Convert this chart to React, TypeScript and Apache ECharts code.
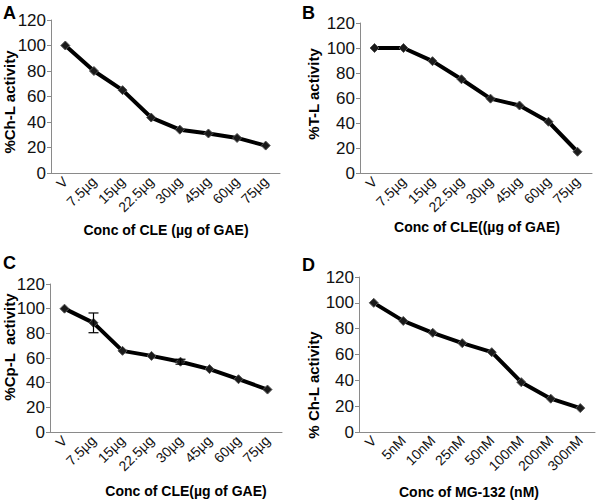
import React, { useEffect, useRef } from "react";
import * as echarts from "echarts";

const catsCLE = ["V", "7.5µg", "15µg", "22.5µg", "30µg", "45µg", "60µg", "75µg"];
const catsMG = ["V", "5nM", "10nM", "25nM", "50nM", "100nM", "200nM", "300nM"];
const valuesA = [100, 80, 65, 43.5, 34, 31, 27.5, 21.5];
const valuesB = [100, 100, 89.5, 75, 59.5, 54, 41, 17];
const valuesC = [100, 88.5, 65.8, 61.7, 57, 51, 42.8, 34.4];
const errorsC = [0, 8, 0, 0, 2, 0, 0, 0];
const valuesD = [100, 86, 76.8, 68.8, 61.8, 38.6, 25.8, 18.5];
const yTicks = [0, 20, 40, 60, 80, 100, 120];

const panelLetters = ["A", "B", "C", "D"];
const yTitles = ["%Ch-L activity", "%T-L activity", "%Cp-L  activity", "% Ch-L activity"];
const xTitles = ["Conc of CLE (µg of GAE)", "Conc of CLE((µg of GAE)", "Conc of CLE(µg of GAE)", "Conc of MG-132 (nM)"];

const FONT = "'Liberation Sans', Arial, sans-serif";

export default function App() {
  const ref = useRef<HTMLDivElement>(null);
  useEffect(() => {
    if (!ref.current) return;
    const chart = echarts.init(ref.current, null, { renderer: "svg" });
    const grids = [
      { left: 51, top: 20, width: 229, height: 153 },
      { left: 360, top: 23, width: 232, height: 150 },
      { left: 50, top: 284, width: 232, height: 148 },
      { left: 359, top: 277, width: 236, height: 155 },
    ];
    const catsList = [catsCLE, catsCLE, catsCLE, catsMG];
    const valsList = [valuesA, valuesB, valuesC, valuesD];
    const letterPos = [[3, 4], [302, 4], [3, 254], [302, 256]];
    const yTitlePos = [[9, 102], [313, 94], [9, 347], [313, 385]];
    const xTitlePos = [[166, 230], [477, 227], [186, 491], [469, 492]];

    const xAxes = grids.map((_, i) => ({
      type: "category",
      gridIndex: i,
      data: catsList[i],
      boundaryGap: true,
      axisLine: { lineStyle: { color: "#8a8a8a", width: 1 } },
      axisTick: { show: false },
      axisLabel: { rotate: 45, fontSize: 14, color: "#111", fontFamily: FONT, margin: 6, interval: 0 },
    }));
    const yAxes = grids.map((_, i) => ({
      type: "value",
      gridIndex: i,
      min: yTicks[0],
      max: yTicks[yTicks.length - 1],
      interval: 20,
      splitLine: { show: false },
      axisLine: { show: true, lineStyle: { color: "#8a8a8a", width: 1 } },
      axisTick: { show: true, length: 4, lineStyle: { color: "#8a8a8a" } },
      axisLabel: { fontSize: 17, color: "#111", fontFamily: FONT, margin: 5 },
    }));

    const series: any[] = valsList.map((vals, i) => ({
      type: "line",
      xAxisIndex: i,
      yAxisIndex: i,
      data: vals,
      symbol: "diamond",
      symbolSize: 9,
      lineStyle: { color: "#000", width: 4 },
      itemStyle: { color: "#1a1a1a", borderColor: "#555", borderWidth: 1 },
      z: 3,
    }));

    series.push({
      type: "custom",
      xAxisIndex: 2,
      yAxisIndex: 2,
      data: valuesC.map((v, i) => [i, v - errorsC[i], v + errorsC[i]]).filter((d, i) => errorsC[i] > 0),
      renderItem: (params: any, api: any) => {
        const x = api.value(0);
        const lo = api.coord([x, api.value(1)]);
        const hi = api.coord([x, api.value(2)]);
        const w = 5;
        const style = { stroke: "#000", lineWidth: 1.2 };
        return {
          type: "group",
          children: [
            { type: "line", shape: { x1: lo[0], y1: lo[1], x2: hi[0], y2: hi[1] }, style },
            { type: "line", shape: { x1: lo[0] - w, y1: lo[1], x2: lo[0] + w, y2: lo[1] }, style },
            { type: "line", shape: { x1: hi[0] - w, y1: hi[1], x2: hi[0] + w, y2: hi[1] }, style },
          ],
        };
      },
      z: 4,
    });

    const graphics: any[] = [];
    panelLetters.forEach((l, i) => {
      graphics.push({
        type: "text",
        left: letterPos[i][0],
        top: letterPos[i][1],
        style: { text: l, font: `bold 18px ${FONT}`, fill: "#000" },
      });
      graphics.push({
        type: "text",
        x: yTitlePos[i][0],
        y: yTitlePos[i][1],
        rotation: Math.PI / 2,
        style: {
          text: yTitles[i],
          font: `bold 15px ${FONT}`,
          fill: "#000",
          align: "center",
          verticalAlign: "middle",
        },
      });
      graphics.push({
        type: "text",
        x: xTitlePos[i][0],
        y: xTitlePos[i][1],
        style: {
          text: xTitles[i],
          font: `bold 14px ${FONT}`,
          fill: "#000",
          align: "center",
          verticalAlign: "middle",
        },
      });
    });

    chart.setOption({
      animation: false,
      backgroundColor: "#fff",
      grid: grids,
      xAxis: xAxes,
      yAxis: yAxes,
      series,
      graphic: graphics,
    });
    return () => chart.dispose();
  }, []);
  return <div ref={ref} style={{ width: 600, height: 504, position: "absolute", left: 0, top: 0 }} />;
}
